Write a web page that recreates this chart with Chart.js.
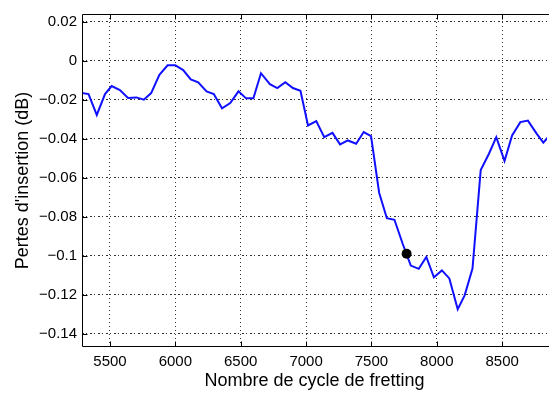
<!DOCTYPE html>
<html>
<head>
<meta charset="utf-8">
<script src="https://cdn.jsdelivr.net/npm/chart.js@4.4.1/dist/chart.umd.min.js"></script>
<style>
  html, body { margin: 0; padding: 0; background: #fff; }
  #wrap { width: 552px; height: 394px; }
</style>
</head>
<body>
<div id="wrap"><canvas id="chart" width="552" height="394"></canvas></div>
<script>
// Cycle counts and insertion loss (dB)
const cycles = [
    5275, 5336, 5399, 5462, 5513, 5576, 5638, 5702, 5759, 5815,
    5878, 5941, 5999, 6060, 6118, 6175, 6239, 6294, 6357, 6420,
    6483, 6541, 6597, 6655, 6723, 6780, 6841, 6899, 6957, 7015,
    7078, 7139, 7202, 7260, 7320, 7383, 7441, 7497, 7559, 7618,
    7676, 7739, 7801, 7862, 7920, 7978, 8039, 8096, 8160, 8213,
    8273, 8336, 8399, 8455, 8518, 8576, 8639, 8697, 8765, 8815,
    8878
];
const losses = [
    -0.0163, -0.0170, -0.0277, -0.0170, -0.0129, -0.0149, -0.0190, -0.0187, -0.0199, -0.0165,
    -0.0071, -0.0022, -0.0022, -0.0047, -0.0095, -0.0110, -0.0156, -0.0170, -0.0243, -0.0216,
    -0.0156, -0.0192, -0.0192, -0.0063, -0.0119, -0.0139, -0.0109, -0.0139, -0.0153, -0.0331,
    -0.0309, -0.0391, -0.0369, -0.0428, -0.0408, -0.0425, -0.0365, -0.0386, -0.0676, -0.0807,
    -0.0815, -0.0938, -0.1050, -0.1067, -0.1006, -0.1110, -0.1075, -0.1116, -0.1274, -0.1203,
    -0.1065, -0.0560, -0.0476, -0.0391, -0.0513, -0.0382, -0.0314, -0.0306, -0.0374, -0.0419,
    -0.0370
];
// highlighted point
const markerCycle = [7769];
const markerLoss = [-0.0989];

const xTicks = [5500, 6000, 6500, 7000, 7500, 8000, 8500];
const yTicks = [0.02, 0, -0.02, -0.04, -0.06, -0.08, -0.1, -0.12, -0.14];

const FONT = "'Liberation Sans', Arial, Helvetica, sans-serif";

// black frame with MATLAB style inward tick marks
const framePlugin = {
    id: 'frame',
    afterDatasetsDraw(chart) {
        const { ctx, chartArea: a, scales } = chart;
        const L = Math.round(a.left) + 0.5, T = Math.round(a.top) + 0.5, B = Math.round(a.bottom) - 0.5;
        ctx.save();
        ctx.strokeStyle = '#000';
        ctx.lineWidth = 1;
        ctx.beginPath();
        ctx.moveTo(a.right + 2, T); ctx.lineTo(L, T); ctx.lineTo(L, B); ctx.lineTo(a.right + 2, B);
        xTicks.forEach(v => {
            const px = Math.round(scales.x.getPixelForValue(v)) + 0.5;
            ctx.moveTo(px, B); ctx.lineTo(px, B - 5);
            ctx.moveTo(px, T); ctx.lineTo(px, T + 5);
        });
        yTicks.forEach(v => {
            const py = Math.round(scales.y.getPixelForValue(v)) + 0.5;
            ctx.moveTo(L, py); ctx.lineTo(L + 5, py);
        });
        ctx.stroke();
        ctx.restore();
    }
};

new Chart(document.getElementById('chart'), {
    type: 'line',
    data: {
        datasets: [
            {
                data: markerCycle.map((c, i) => ({ x: c, y: markerLoss[i] })),
                showLine: false,
                pointRadius: 5,
                pointBackgroundColor: '#000',
                pointBorderColor: '#000',
                pointBorderWidth: 0,
                order: 0
            },
            {
                data: cycles.map((c, i) => ({ x: c, y: losses[i] })),
                borderColor: '#1010ff',
                borderWidth: 2,
                pointRadius: 0,
                tension: 0,
                fill: false,
                order: 1
            }
        ]
    },
    options: {
        responsive: false,
        devicePixelRatio: 1,
        animation: false,
        layout: { padding: { top: 13, left: 0, right: 0, bottom: 0 } },
        plugins: { legend: { display: false }, tooltip: { enabled: false } },
        scales: {
            x: {
                type: 'linear',
                min: 5286,
                max: 8843,
                afterBuildTicks: s => { s.ticks = xTicks.map(v => ({ value: v })); },
                afterFit: s => { s.height = 47; },
                border: { display: false, dash: [1, 3] },
                grid: { color: '#333', lineWidth: 1, drawTicks: false },
                ticks: {
                    color: '#000',
                    padding: 6,
                    maxRotation: 0,
                    font: { family: FONT, size: 15 },
                    callback: v => String(v)
                },
                title: {
                    display: true,
                    text: 'Nombre de cycle de fretting',
                    color: '#000',
                    font: { family: FONT, size: 18 },
                    padding: { top: 0, bottom: 2 }
                }
            },
            y: {
                min: -0.1468,
                max: 0.0241,
                afterBuildTicks: s => { s.ticks = yTicks.map(v => ({ value: v })); },
                afterFit: s => { s.width = 82; },
                border: { display: false, dash: [2, 2, 1, 3] },
                grid: { color: '#333', lineWidth: 1, drawTicks: false },
                ticks: {
                    color: '#000',
                    padding: 5,
                    font: { family: FONT, size: 15 },
                    callback: v => (v < 0 ? '\u2212' + String(+(-v).toFixed(2)) : String(+v.toFixed(2)))
                },
                title: {
                    display: true,
                    text: "Pertes d'insertion (dB)",
                    color: '#000',
                    font: { family: FONT, size: 18 },
                    padding: { top: 12, bottom: 0 }
                }
            }
        }
    },
    plugins: [framePlugin]
});
</script>
</body>
</html>
